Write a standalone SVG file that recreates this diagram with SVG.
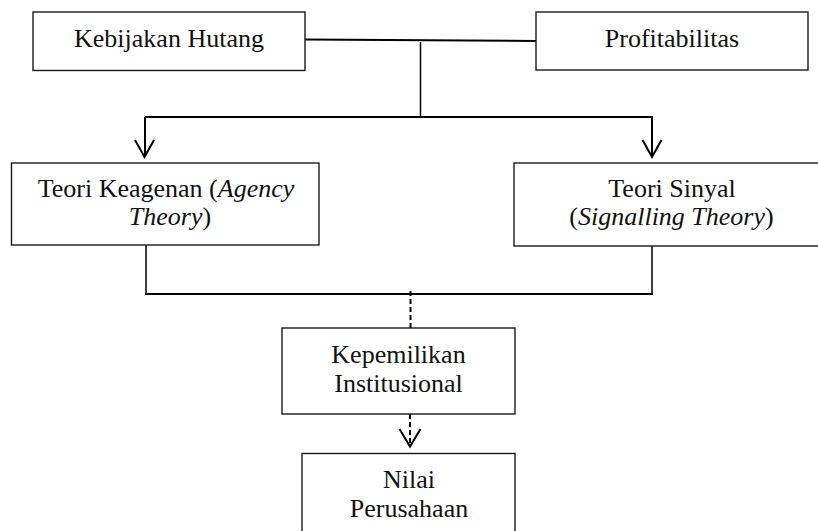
<svg xmlns="http://www.w3.org/2000/svg" width="818" height="531" viewBox="0 0 818 531">
<style>
.box{fill:#fff;stroke:#1a1a1a;stroke-width:1.4}
.t{font-family:"Palatino Linotype","Book Antiqua",Palatino,"Liberation Serif",serif;font-size:26px;fill:#111;text-anchor:middle}
.i{font-style:italic}
.c{fill:none;stroke:#000;stroke-width:2}
.n{fill:none;stroke:#000;stroke-width:1.5}
.d{fill:none;stroke:#000;stroke-width:2;stroke-dasharray:5 3}
.h{fill:none;stroke:#000;stroke-width:2;stroke-linejoin:miter}
</style>
<rect width="818" height="531" fill="#fff"/>
<g id="connectors">
<path class="c" d="M305 39.5 L536 41"/>
<path class="n" d="M420.5 42 V117"/>
<path class="c" d="M145 117 H653 M145 117 V156 M652 117 V156"/>
<path class="h" d="M135 140 L144.5 157 L154 140 M642.5 140 L652 157 L661.5 140"/>
<path class="n" d="M146 245 V294 M652 246 V294"/>
<path class="c" d="M145 294 H653"/>
<path class="d" d="M410.5 291 V328"/>
<path class="d" d="M410 414 V445"/>
<path class="h" d="M399.5 429 L410 446.5 L420.5 429"/>
</g>
<g id="kebijakan">
<rect class="box" x="33" y="12" width="272" height="58.5"/>
<text class="t" x="169" y="47">Kebijakan Hutang</text>
</g>
<g id="profitabilitas">
<rect class="box" x="536" y="12" width="272" height="58"/>
<text class="t" x="672" y="46.5">Profitabilitas</text>
</g>
<g id="agency">
<rect class="box" x="11.5" y="163" width="307.5" height="82"/>
<text class="t" x="166" y="196.5">Teori Keagenan (<tspan class="i">Agency</tspan></text>
<text class="t" x="170" y="225"><tspan class="i">Theory</tspan>)</text>
</g>
<g id="signalling">
<rect class="box" x="514" y="163" width="320" height="83"/>
<text class="t" x="672" y="196.5">Teori Sinyal</text>
<text class="t" x="671.5" y="225">(<tspan class="i">Signalling Theory</tspan>)</text>
</g>
<g id="kepemilikan">
<rect class="box" x="282" y="328" width="233" height="86"/>
<text class="t" x="398.5" y="363">Kepemilikan</text>
<text class="t" x="398.5" y="392">Institusional</text>
</g>
<g id="nilai">
<rect class="box" x="302" y="453.5" width="213" height="85"/>
<text class="t" x="409" y="488">Nilai</text>
<text class="t" x="409" y="517">Perusahaan</text>
</g>
</svg>
